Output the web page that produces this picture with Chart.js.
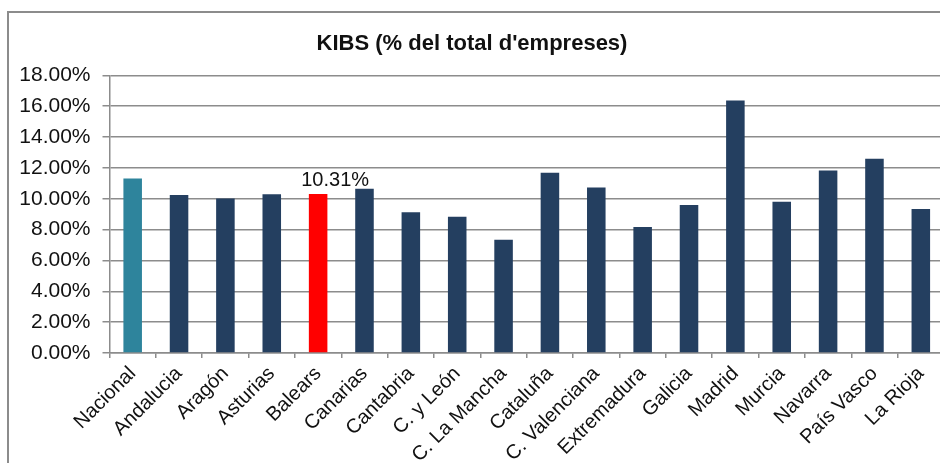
<!DOCTYPE html>
<html>
<head>
<meta charset="utf-8">
<script src="https://cdn.jsdelivr.net/npm/chart.js"></script>
<style>
  html, body { margin: 0; padding: 0; background: #fff; overflow: hidden; }
  #wrap { position: relative; width: 940px; height: 463px; overflow: hidden; }
  #frame { position: absolute; left: 7px; top: 11px; width: 1000px; height: 500px;
           border: 2px solid #8c8c8c; box-sizing: border-box; }
  #myChart { position: absolute; left: 0; top: 0; }
</style>
</head>
<body>
<div id="wrap">
  <div id="frame"></div>
  <canvas id="myChart" width="950" height="463"></canvas>
</div>
<script>
'use strict';

// categories and values (% of all firms)
const regions = ['Nacional', 'Andalucia', 'Aragón', 'Asturias', 'Balears', 'Canarias',
  'Cantabria', 'C. y León', 'C. La Mancha', 'Cataluña', 'C. Valenciana', 'Extremadura',
  'Galicia', 'Madrid', 'Murcia', 'Navarra', 'País Vasco', 'La Rioja'];
const kibsShare = [11.31, 10.24, 10.02, 10.30, 10.31, 10.65, 9.12, 8.84, 7.34, 11.68,
  10.73, 8.17, 9.59, 16.37, 9.81, 11.83, 12.60, 9.33];
const labelIndex = 4; // Balears gets the value label
const yTicks = [0, 2, 4, 6, 8, 10, 12, 14, 16, 18];

const barColors = regions.map((r, i) =>
  i === 0 ? '#2e849c' : (i === labelIndex ? '#ff0000' : '#243f60'));

// value label above the Balears bar
const valueLabel = {
  id: 'valueLabel',
  afterDatasetsDraw(chart) {
    const bar = chart.getDatasetMeta(0).data[labelIndex];
    const c = chart.ctx;
    c.save();
    c.font = '20px "Liberation Sans", Arial, sans-serif';
    c.fillStyle = '#111';
    c.textAlign = 'center';
    c.textBaseline = 'bottom';
    c.fillText(kibsShare[labelIndex].toFixed(2) + '%', bar.x + 17, bar.y - 4);
    c.restore();
  }
};

const ctx = document.getElementById('myChart');

new Chart(ctx, {
  type: 'bar',
  data: {
    labels: regions,
    datasets: [{
      data: kibsShare,
      backgroundColor: barColors,
      barPercentage: 0.4,
      categoryPercentage: 1
    }]
  },
  options: {
    responsive: false,
    animation: false,
    layout: { padding: { top: 31, right: 6, left: 0, bottom: 0 } },
    plugins: {
      legend: { display: false },
      tooltip: { enabled: false },
      title: {
        display: true,
        text: "KIBS (% del total d'empreses)",
        color: '#111',
        font: { family: '"Liberation Sans", Arial, sans-serif', size: 22, weight: 'bold' },
        padding: { top: 0, bottom: 18 }
      }
    },
    scales: {
      y: {
        min: 0,
        max: 18,
        afterBuildTicks(scale) {
          scale.ticks = yTicks.map(v => ({ value: v }));
        },
        afterFit(scale) { scale.width = 109.5; },
        ticks: {
          color: '#111',
          padding: 12,
          font: { family: '"Liberation Sans", Arial, sans-serif', size: 21 },
          callback: v => v.toFixed(2) + '%'
        },
        grid: { color: '#8c8c8c', lineWidth: 1.5, tickLength: 7 },
        border: { color: '#8c8c8c', width: 1.5 }
      },
      x: {
        afterFit(scale) { scale.height = 110; },
        ticks: {
          color: '#111',
          maxRotation: 45,
          minRotation: 45,
          padding: 4,
          font: { family: '"Liberation Sans", Arial, sans-serif', size: 20 }
        },
        grid: { display: true, drawOnChartArea: false, color: '#8c8c8c', lineWidth: 1.5, tickLength: 5 },
        border: { color: '#8c8c8c', width: 1.5 }
      }
    }
  },
  plugins: [valueLabel]
});
</script>
</body>
</html>
